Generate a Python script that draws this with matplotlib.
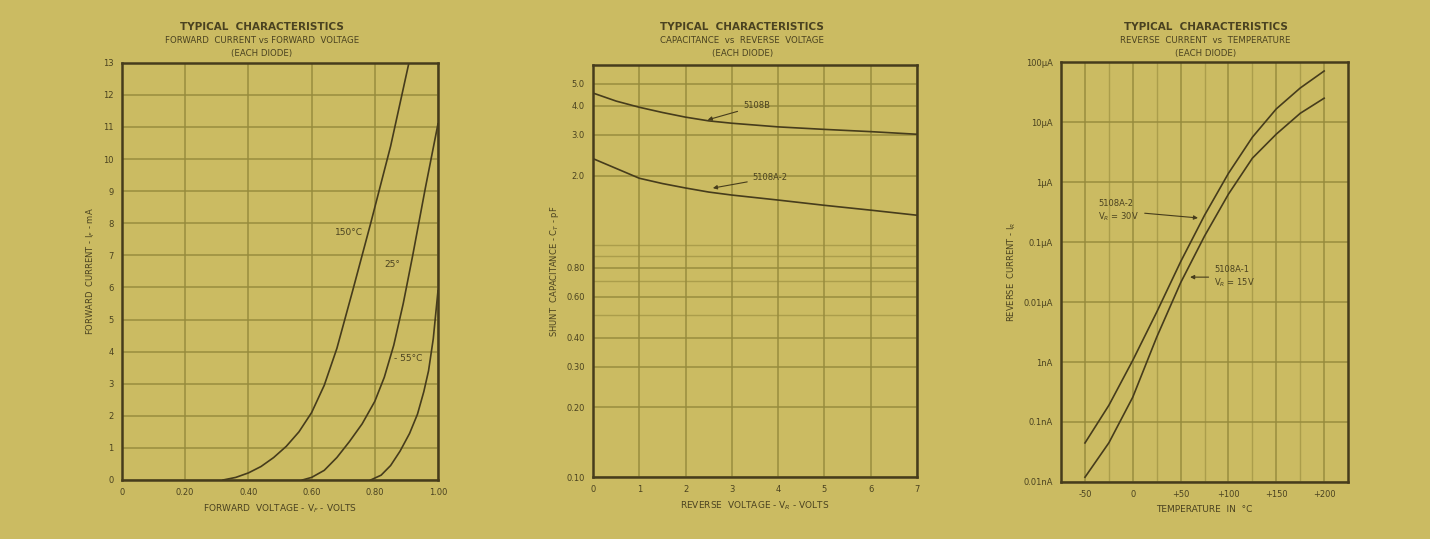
import matplotlib.pyplot as plt
from matplotlib.ticker import FixedLocator, NullFormatter

# colours of the scanned sheet
BG = '#cbbb62'
INK = '#4a4220'
GRID = '#968a3c'
CURVE = '#463c1c'

# ---- forward current vs forward voltage ----
vf_ticks = [0, 0.2, 0.4, 0.6, 0.8, 1.0]
vf_labels = ['0', '0.20', '0.40', '0.60', '0.80', '1.00']
if_ticks = list(range(0, 14))
v_150 = [0.32, 0.36, 0.40, 0.44, 0.48, 0.52, 0.56, 0.60, 0.64, 0.68, 0.73, 0.787, 0.85, 0.908]
i_150 = [0, 0.08, 0.22, 0.42, 0.7, 1.05, 1.5, 2.1, 2.95, 4.1, 5.9, 8.0, 10.4, 13.0]
v_25 = [0.571, 0.60, 0.64, 0.68, 0.72, 0.76, 0.80, 0.83, 0.86, 0.89, 0.92, 0.96, 1.0]
i_25 = [0, 0.08, 0.3, 0.7, 1.2, 1.75, 2.45, 3.2, 4.2, 5.5, 7.0, 9.1, 11.1]
v_m55 = [0.787, 0.82, 0.85, 0.88, 0.91, 0.935, 0.955, 0.97, 0.985, 1.0]
i_m55 = [0, 0.15, 0.45, 0.9, 1.45, 2.05, 2.75, 3.4, 4.4, 5.9]

# ---- capacitance vs reverse voltage ----
vr = [0, 0.5, 1, 1.5, 2, 2.5, 3, 4, 5, 6, 7]
c_upper = [4.55, 4.2, 3.95, 3.75, 3.58, 3.45, 3.37, 3.25, 3.17, 3.1, 3.02]
c_lower = [2.37, 2.15, 1.95, 1.85, 1.77, 1.70, 1.65, 1.57, 1.49, 1.42, 1.35]
c_ticks = [0.1, 0.2, 0.3, 0.4, 0.6, 0.8, 2.0, 3.0, 4.0, 5.0]
c_labels = ['0.10', '0.20', '0.30', '0.40', '0.60', '0.80', '2.0', '3.0', '4.0', '5.0']

# ---- reverse current vs temperature ----
temp = [-50, -25, 0, 25, 50, 75, 100, 125, 150, 175, 200]
ir_upper = [4.47e-11, 1.9e-10, 1.07e-9, 6.8e-9, 4.7e-8, 2.8e-7, 1.4e-6, 5.6e-6, 1.66e-5, 3.7e-5, 7.1e-5]
ir_lower = [1.2e-11, 4.5e-11, 2.6e-10, 2.6e-9, 2.1e-8, 1.26e-7, 6.3e-7, 2.5e-6, 6.3e-6, 1.4e-5, 2.5e-5]
t_ticks = [-50, 0, 50, 100, 150, 200]
t_labels = ['-50', '0', '+50', '+100', '+150', '+200']
ir_ticks = [1e-11, 1e-10, 1e-9, 1e-8, 1e-7, 1e-6, 1e-5, 1e-4]
ir_labels = ['0.01nA', '0.1nA', '1nA', '0.01\u03bcA', '0.1\u03bcA', '1\u03bcA', '10\u03bcA', '100\u03bcA']

plt.rcParams['font.family'] = 'DejaVu Sans'
plt.rcParams['font.size'] = 6

fig = plt.figure(figsize=(14.3, 5.39), dpi=100)
fig.patch.set_facecolor(BG)


def style(ax):
    ax.set_facecolor(BG)
    for s in ax.spines.values():
        s.set_color(CURVE)
        s.set_linewidth(1.8)
    ax.tick_params(colors=INK, labelcolor=INK, length=0, pad=6, labelsize=6)
    ax.grid(True, which='major', color=GRID, lw=1.3, alpha=0.8)
    ax.set_axisbelow(True)


def titles(fig, xc, sub):
    fig.text(xc, 0.945, 'TYPICAL  CHARACTERISTICS', ha='center', color=INK,
             fontsize=7.5, fontweight='bold')
    fig.text(xc, 0.920, sub, ha='center', color=INK, fontsize=6.2)
    fig.text(xc, 0.896, '(EACH DIODE)', ha='center', color=INK, fontsize=6.2)


arrow = dict(arrowstyle='-|>', color=CURVE, lw=0.8)

# left chart
ax1 = fig.add_axes([0.0853, 0.1095, 0.221, 0.774])
style(ax1)
ax1.plot(v_150, i_150, color=CURVE, lw=1.2)
ax1.plot(v_25, i_25, color=CURVE, lw=1.2)
ax1.plot(v_m55, i_m55, color=CURVE, lw=1.2)
ax1.set_xlim(0, 1.0)
ax1.set_ylim(0, 13)
ax1.set_xticks(vf_ticks, vf_labels)
ax1.set_yticks(if_ticks)
ax1.set_xlabel('FORWARD  VOLTAGE - V$_F$ - VOLTS', color=INK, fontsize=6.5)
ax1.set_ylabel('FORWARD  CURRENT - I$_F$ - mA', color=INK, fontsize=6)
ax1.text(0.675, 7.7, '150\u00b0C', color=INK, fontsize=6.5, va='center')
ax1.text(0.83, 6.7, '25\u00b0', color=INK, fontsize=6.5, va='center')
ax1.text(0.86, 3.8, '- 55\u00b0C', color=INK, fontsize=6.5, va='center')
titles(fig, 0.183, 'FORWARD  CURRENT vs FORWARD  VOLTAGE')

# middle chart
ax2 = fig.add_axes([0.4147, 0.115, 0.2266, 0.764])
style(ax2)
ax2.set_yscale('log')
ax2.plot(vr, c_upper, color=CURVE, lw=1.2)
ax2.plot(vr, c_lower, color=CURVE, lw=1.2)
ax2.set_xlim(0, 7)
ax2.set_ylim(0.1, 6.0)
ax2.set_xticks(range(8))
ax2.yaxis.set_major_locator(FixedLocator(c_ticks))
ax2.set_yticklabels(c_labels)
ax2.yaxis.set_minor_locator(FixedLocator([0.5, 0.7, 0.9, 1.0]))
ax2.yaxis.set_minor_formatter(NullFormatter())
ax2.grid(True, which='minor', axis='y', color=GRID, lw=1.0, alpha=0.6)
ax2.tick_params(which='minor', length=0)
ax2.set_xlabel('REVERSE  VOLTAGE - V$_R$ - VOLTS', color=INK, fontsize=6.5)
ax2.set_ylabel('SHUNT  CAPACITANCE - C$_T$ - pF', color=INK, fontsize=6)
ax2.annotate('5108B', xy=(2.42, 3.46), xytext=(3.24, 4.0), color=INK, fontsize=6,
             va='center', arrowprops=arrow)
ax2.annotate('5108A-2', xy=(2.53, 1.76), xytext=(3.45, 1.96), color=INK, fontsize=6,
             va='center', arrowprops=arrow)
titles(fig, 0.519, 'CAPACITANCE  vs  REVERSE  VOLTAGE')

# right chart
ax3 = fig.add_axes([0.742, 0.1058, 0.2007, 0.779])
style(ax3)
ax3.set_yscale('log')
ax3.plot(temp, ir_upper, color=CURVE, lw=1.2)
ax3.plot(temp, ir_lower, color=CURVE, lw=1.2)
ax3.set_xlim(-75, 225)
ax3.set_ylim(1e-11, 1e-4)
ax3.set_xticks(t_ticks, t_labels)
ax3.xaxis.set_minor_locator(FixedLocator(range(-75, 226, 25)))
ax3.grid(True, which='minor', axis='x', color=GRID, lw=1.0, alpha=0.6)
ax3.yaxis.set_major_locator(FixedLocator(ir_ticks))
ax3.set_yticklabels(ir_labels)
ax3.yaxis.set_minor_locator(FixedLocator([]))
ax3.tick_params(which='minor', length=0)
ax3.set_xlabel('TEMPERATURE  IN  \u00b0C', color=INK, fontsize=6.5)
ax3.set_ylabel('REVERSE  CURRENT - I$_R$', color=INK, fontsize=6)
ax3.annotate('5108A-2\nV$_R$ = 30V', xy=(71, 2.5e-7), xytext=(-36, 3.3e-7), color=INK,
             fontsize=6, va='center', arrowprops=arrow)
ax3.annotate('5108A-1\nV$_R$ = 15V', xy=(57, 2.6e-8), xytext=(85, 2.6e-8), color=INK,
             fontsize=6, va='center', arrowprops=arrow)
titles(fig, 0.843, 'REVERSE  CURRENT  vs  TEMPERATURE')

fig.savefig('out.png', dpi=100, facecolor=BG)
